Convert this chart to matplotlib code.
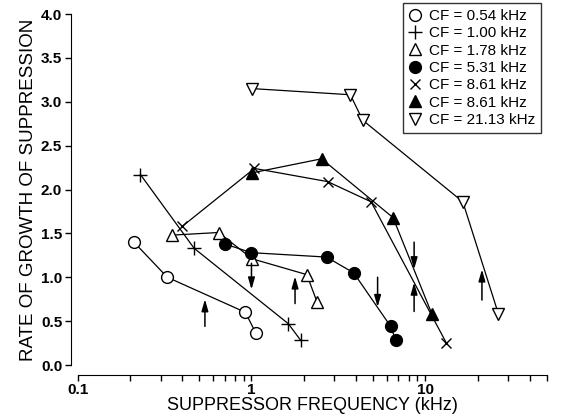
import matplotlib.pyplot as plt

plt.rcParams['font.family'] = ['Liberation Sans', 'DejaVu Sans']

# Rate of growth of suppression vs suppressor frequency, one series per fibre
cf_054_freq = [0.211, 0.328, 0.923, 1.055]
cf_054_rate = [1.40, 1.00, 0.60, 0.37]

cf_100_freq = [0.230, 0.468, 1.63, 1.92]
cf_100_rate = [2.17, 1.33, 0.47, 0.28]

cf_178_freq = [0.348, 0.647, 1.01, 2.08, 2.38]
cf_178_rate = [1.48, 1.51, 1.21, 1.03, 0.72]

cf_531_freq = [0.70, 1.00, 2.70, 3.87, 6.31, 6.73]
cf_531_rate = [1.38, 1.28, 1.23, 1.05, 0.44, 0.29]

cf_861x_freq = [0.40, 1.04, 2.74, 4.87, 13.2]
cf_861x_rate = [1.58, 2.24, 2.09, 1.86, 0.25]

cf_861t_freq = [1.01, 2.53, 6.51, 10.9]
cf_861t_rate = [2.19, 2.35, 1.68, 0.58]

cf_2113_freq = [1.01, 3.70, 4.36, 16.4, 26.3]
cf_2113_rate = [3.15, 3.08, 2.79, 1.86, 0.58]

# CF arrows: x position, tail, head
arrow_x = [0.54, 1.00, 1.78, 5.31, 8.61, 8.61, 21.13]
arrow_tail = [0.44, 1.16, 0.70, 1.00, 1.40, 0.61, 0.74]
arrow_head = [0.75, 0.86, 1.01, 0.66, 1.09, 0.94, 1.09]

labels = ['CF = 0.54 kHz', 'CF = 1.00 kHz', 'CF = 1.78 kHz', 'CF = 5.31 kHz',
          'CF = 8.61 kHz', 'CF = 8.61 kHz', 'CF = 21.13 kHz']

fig = plt.figure(figsize=(5.63, 4.17), dpi=100)
ax = fig.add_axes([0.1377, 0.1247, 0.8339, 0.8417])

lw = 0.9
ms = 8.5
ax.plot(cf_054_freq, cf_054_rate, '-o', color='black', mfc='white', mec='black',
        ms=ms, mew=1, lw=lw, label=labels[0])
ax.plot(cf_100_freq, cf_100_rate, '-+', color='black', ms=ms + 1, mew=1, lw=lw,
        label=labels[1])
ax.plot(cf_178_freq, cf_178_rate, '-^', color='black', mfc='white', mec='black',
        ms=ms, mew=1, lw=lw, label=labels[2])
ax.plot(cf_531_freq, cf_531_rate, '-o', color='black', mfc='black', mec='black',
        ms=ms, mew=1, lw=lw, label=labels[3])
ax.plot(cf_861x_freq, cf_861x_rate, '-x', color='black', ms=ms - 1, mew=1, lw=lw,
        label=labels[4])
ax.plot(cf_861t_freq, cf_861t_rate, '-^', color='black', mfc='black', mec='black',
        ms=ms, mew=1, lw=lw, label=labels[5])
ax.plot(cf_2113_freq, cf_2113_rate, '-v', color='black', mfc='white', mec='black',
        ms=ms, mew=1, lw=lw, label=labels[6])

for x, y0, y1 in zip(arrow_x, arrow_tail, arrow_head):
    ax.annotate('', xy=(x, y1), xytext=(x, y0),
                arrowprops=dict(arrowstyle='-|>,head_length=0.7,head_width=0.2',
                                color='black', lw=1.1, mutation_scale=10,
                                shrinkA=0, shrinkB=0))

ax.set_xscale('log')
ax.set_xlim(0.1, 50)
ax.set_ylim(0, 4)
ax.set_yticks([0, 0.5, 1, 1.5, 2, 2.5, 3, 3.5, 4])
ax.set_yticklabels(['0.0', '0.5', '1.0', '1.5', '2.0', '2.5', '3.0', '3.5', '4.0'])
ax.set_xticks([0.1, 1, 10])
ax.set_xticklabels(['0.1', '1', '10'])

ax.spines['top'].set_visible(False)
ax.spines['right'].set_visible(False)
ax.spines['left'].set_position(('outward', 5))
ax.spines['bottom'].set_position(('outward', 7))
ax.tick_params(which='both', direction='out', width=1, labelsize=11)
ax.tick_params(which='major', length=4, pad=2)
ax.tick_params(which='minor', length=4)
for lab in ax.get_xticklabels() + ax.get_yticklabels():
    lab.set_fontweight('bold')

ax.set_xlabel('SUPPRESSOR FREQUENCY (kHz)', fontsize=13, labelpad=0)
ax.set_ylabel('RATE OF GROWTH OF SUPPRESSION', fontsize=13.5, labelpad=3)

leg = ax.legend(loc='upper right', bbox_to_anchor=(0.961, 0.993),
                bbox_transform=fig.transFigure, fontsize=11, frameon=True,
                fancybox=False, edgecolor='black', handlelength=0.8,
                handletextpad=0.5, labelspacing=0.22, borderpad=0.4,
                borderaxespad=0)
leg.get_frame().set_linewidth(1)
for line in leg.get_lines():
    line.set_linestyle('none')

fig.savefig('out.png', dpi=100)
